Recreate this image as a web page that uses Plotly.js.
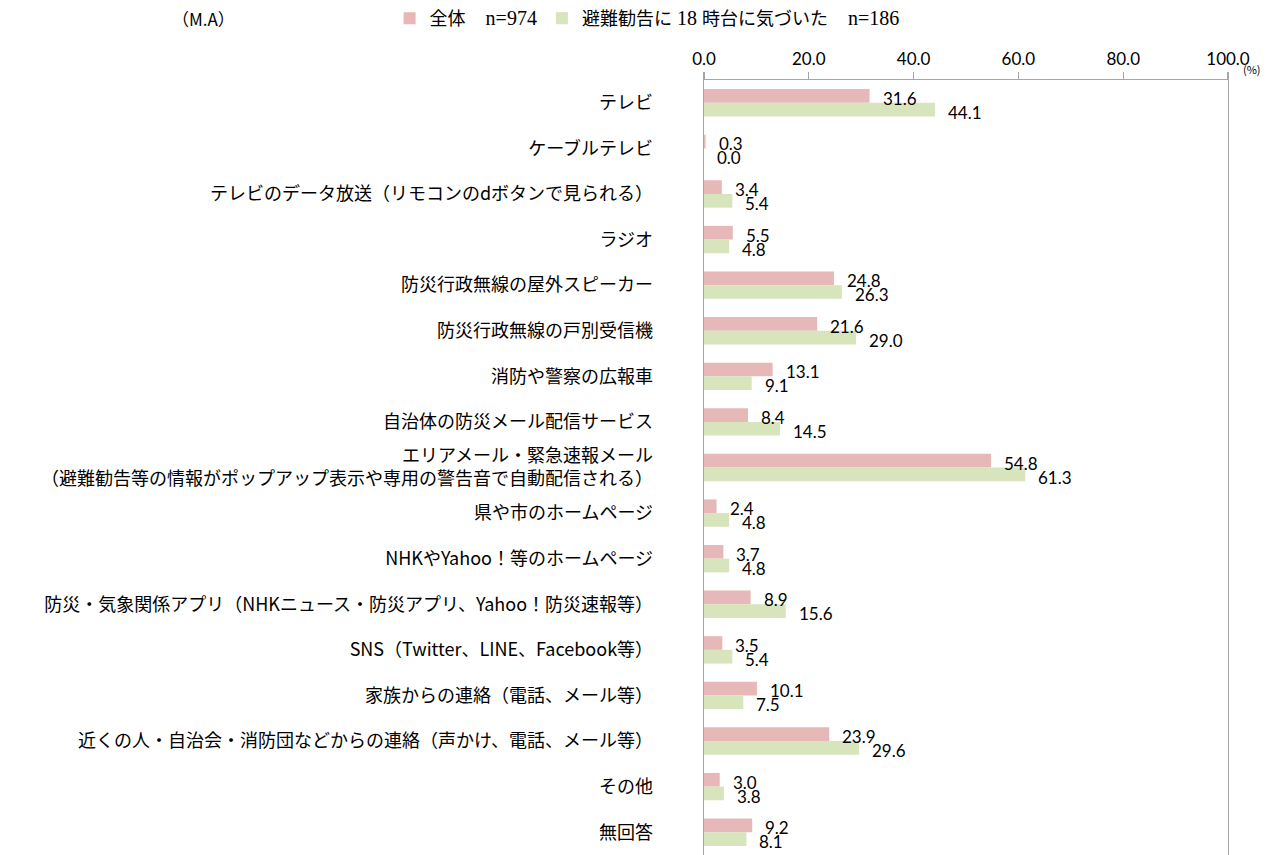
<!DOCTYPE html>
<html>
<head>
<meta charset="utf-8">
<script src="https://cdn.plot.ly/plotly-3.0.1.min.js"></script>
<style>
  html, body { margin: 0; padding: 0; background: #fff; }
  #chart { width: 1277px; height: 855px; }
</style>
</head>
<body>
<div id="chart"></div>
<script>
// 情報源の回答項目（上から順）
const categories = [
  "テレビ",
  "ケーブルテレビ",
  "テレビのデータ放送（リモコンのdボタンで見られる）",
  "ラジオ",
  "防災行政無線の屋外スピーカー",
  "防災行政無線の戸別受信機",
  "消防や警察の広報車",
  "自治体の防災メール配信サービス",
  "エリアメール・緊急速報メール<br>（避難勧告等の情報がポップアップ表示や専用の警告音で自動配信される）",
  "県や市のホームページ",
  "NHKやYahoo！等のホームページ",
  "防災・気象関係アプリ（NHKニュース・防災アプリ、Yahoo！防災速報等）",
  "SNS（Twitter、LINE、Facebook等）",
  "家族からの連絡（電話、メール等）",
  "近くの人・自治会・消防団などからの連絡（声かけ、電話、メール等）",
  "その他",
  "無回答"
];

// 全体 n=974（%）
const valuesAll = [31.6, 0.3, 3.4, 5.5, 24.8, 21.6, 13.1, 8.4, 54.8, 2.4, 3.7, 8.9, 3.5, 10.1, 23.9, 3.0, 9.2];
// 避難勧告に18時台に気づいた n=186（%）
const values18 = [44.1, 0.0, 5.4, 4.8, 26.3, 29.0, 9.1, 14.5, 61.3, 4.8, 4.8, 15.6, 5.4, 7.5, 29.6, 3.8, 8.1];

const serif = "font-family:'Liberation Serif', serif;font-size:20px";
const seriesNames = [
  '全体<span style="' + serif + '">　n=974</span>',
  '避難勧告に<span style="' + serif + '"> 18 </span>時台に気づいた<span style="' + serif + '">　n=186</span>'
];
const tickVals = [0, 20, 40, 60, 80, 100];

const pink = "#E6B9B8";
const green = "#D7E4BC";
const axisGray = "#A6A6A6";
const cjk = "'Noto Sans CJK JP', sans-serif";
const numFont = "Lato, 'Open Sans', sans-serif";

const traces = [
  {
    type: "bar", orientation: "h", name: seriesNames[0],
    y: categories, x: valuesAll,
    marker: { color: pink }, hoverinfo: "x"
  },
  {
    type: "bar", orientation: "h", name: seriesNames[1],
    y: categories, x: values18,
    marker: { color: green }, hoverinfo: "x"
  }
];

// 値ラベル：各棒の先端の右側に置く（系列ごとに上下へずらす）
const annotations = [];
[valuesAll, values18].forEach((vals, s) => {
  vals.forEach((v, i) => {
    annotations.push({
      x: v, y: categories[i], xref: "x", yref: "y",
      text: v.toFixed(1), showarrow: false,
      xanchor: "left", yanchor: "middle",
      xshift: 11, yshift: s === 0 ? 4.5 : -9.5,
      font: { family: numFont, size: 17, color: "#000" }
    });
  });
});
annotations.push({
  xref: "paper", yref: "paper", x: 1.025, y: 1.0,
  xanchor: "left", yanchor: "bottom", yshift: 1,
  text: "(%)", showarrow: false,
  font: { family: cjk, size: 11, color: "#000" }
});
annotations.push({
  xref: "paper", yref: "paper", x: -1.02, y: 1.079,
  xanchor: "left", yanchor: "middle",
  text: "（M.A）", showarrow: false,
  font: { family: cjk, size: 17, color: "#000" }
});

const layout = {
  width: 1277, height: 855,
  margin: { l: 704, r: 49, t: 79, b: 0 },
  paper_bgcolor: "#fff", plot_bgcolor: "#fff",
  barmode: "group", bargap: 0.4, bargroupgap: 0,
  showlegend: true,
  legend: {
    orientation: "h", x: -0.6, y: 1.079, xanchor: "left", yanchor: "middle",
    xref: "paper", yref: "paper",
    font: { family: cjk, size: 18, color: "#000" },
    itemwidth: 30, traceorder: "normal", bgcolor: "rgba(0,0,0,0)"
  },
  xaxis: {
    side: "top", range: [0, 100], tickvals: tickVals,
    tickformat: ".1f", showgrid: false, zeroline: false,
    showline: true, linecolor: axisGray, linewidth: 1.3,
    ticks: "outside", ticklen: 7, tickcolor: axisGray, tickwidth: 1.3,
    tickfont: { family: numFont, size: 17, color: "#000" },
    fixedrange: true
  },
  yaxis: {
    type: "category", autorange: "reversed",
    showgrid: false, zeroline: false,
    showline: true, mirror: true, linecolor: axisGray, linewidth: 1.3,
    ticks: "", ticklabelstandoff: 46,
    tickfont: { family: cjk, size: 18, color: "#000" },
    fixedrange: true
  },
  annotations: annotations
};

Plotly.newPlot("chart", traces, layout, { displayModeBar: false, staticPlot: true });
</script>
</body>
</html>
